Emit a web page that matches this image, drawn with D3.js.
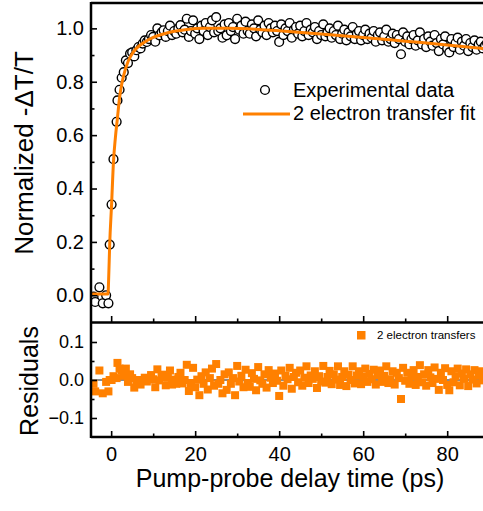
<!DOCTYPE html>
<html>
<head>
<meta charset="utf-8">
<script src="https://cdn.jsdelivr.net/npm/d3@7"></script>
<style>
  body { margin: 0; background: #fff; }
  text { font-family: Arial, "Liberation Sans", sans-serif; fill: #000; }
</style>
</head>
<body>
<svg id="chart" width="483" height="511"></svg>
<script>
// delay times (ps)
let time = [-4.2, -3.8, -2.8, -2.0, -1.2, -0.65, -0.35, 0.1, 0.55, 1.3, 1.5,
  2, 2.5, 3, 3.5, 4, 4.5, 5, 5.5, 6, 6.5, 7, 7.5, 8, 8.5, 9, 9.5, 10, 10.5, 11, 11.5,
  12, 12.5, 13, 13.5, 14, 14.5, 15, 15.5, 16, 16.5, 17, 17.5, 18, 18.5, 19, 19.5, 20, 20.5, 21, 21.5,
  22, 22.5, 23, 23.5, 24, 24.5, 25, 25.5, 26, 26.5, 27, 27.5, 28, 28.5, 29, 29.5, 30, 30.5, 31, 31.5,
  32, 32.5, 33, 33.5, 34, 34.5, 35, 35.5, 36, 36.5, 37, 37.5, 38, 38.5, 39, 39.5, 40, 40.5, 41, 41.5,
  42, 42.5, 43, 43.5, 44, 44.5, 45, 45.5, 46, 46.5, 47, 47.5, 48, 48.5, 49, 49.5, 50, 50.5, 51, 51.5,
  52, 52.5, 53, 53.5, 54, 54.5, 55, 55.5, 56, 56.5, 57, 57.5, 58, 58.5, 59, 59.5, 60, 60.5, 61, 61.5,
  62, 62.5, 63, 63.5, 64, 64.5, 65, 65.5, 66, 66.5, 67, 67.5, 68, 68.5, 69, 69.5, 70, 70.5, 71, 71.5,
  72, 72.5, 73, 73.5, 74, 74.5, 75, 75.5, 76, 76.5, 77, 77.5, 78, 78.5, 79, 79.5, 80, 80.5, 81, 81.5,
  82, 82.5, 83, 83.5, 84, 84.5, 85, 85.5, 86, 86.5, 87, 87.5, 88, 88.5, 89, 89.5];

// normalized -dT/T
let signal = [-0.005, -0.025, 0.03, -0.03, 0.0, -0.03, 0.19, 0.34, 0.51, 0.65, 0.73,
  0.77, 0.815, 0.836, 0.88, 0.87, 0.905, 0.91, 0.895, 0.918, 0.93, 0.925, 0.943, 0.955, 0.949, 0.96, 0.975, 0.968, 0.95, 1.0, 0.974,
  0.985, 0.993, 0.968, 0.99, 1.01, 0.975, 0.99, 0.98, 1.0, 1.012, 0.985, 0.995, 1.036, 0.968, 0.99, 1.03, 0.98, 1.0, 0.96, 1.01,
  0.99, 1.02, 0.975, 1.005, 1.03, 0.985, 1.042, 0.99, 1.0, 0.965, 1.015, 0.974, 1.02, 0.99, 1.005, 0.96, 1.036, 0.995, 1.01, 0.98,
  1.025, 0.99, 0.98, 1.015, 1.0, 0.97, 1.03, 0.995, 0.985, 1.01, 0.975, 1.02, 1.0, 0.985, 1.01, 0.99, 0.949, 1.015, 0.975, 1.0,
  0.99, 1.02, 0.965, 0.995, 1.005, 0.98, 1.01, 0.97, 0.99, 1.02, 0.975, 0.995, 0.985, 1.005, 0.96, 0.99, 0.975, 1.015, 0.97, 0.985,
  1.0, 0.965, 0.99, 0.975, 1.01, 0.96, 0.98, 0.995, 0.955, 0.985, 0.97, 1.005, 0.96, 0.98, 0.99, 0.955, 0.975, 0.995, 0.96, 0.98,
  0.965, 0.99, 0.95, 0.975, 0.985, 0.955, 0.97, 0.995, 0.95, 0.96, 0.98, 0.945, 0.975, 0.96, 0.903, 0.985, 0.95, 0.97, 0.94, 0.96,
  0.975, 0.935, 0.955, 0.985, 0.94, 0.96, 0.93, 0.97, 0.95, 0.935, 0.975, 0.945, 0.915, 0.96, 0.94, 0.97, 0.925, 0.91, 0.96, 0.93,
  0.945, 0.965, 0.92, 0.95, 0.935, 0.96, 0.915, 0.945, 0.93, 0.955, 0.92, 0.94, 0.95, 0.925, 0.935, 0.945];

// residuals of the fit
let residual = [-0.01, -0.03, 0.025, -0.035, -0.005, -0.03, 0.0, 0.0, 0.01, 0.005, 0.045,
  0.03, 0.025, 0.011, 0.03, -0.005, 0.015, 0.005, -0.02, -0.007, 0.0, -0.012, 0.0, 0.006, -0.004, 0.002, 0.013, 0.002, -0.019, 0.028, -0.001,
  0.008, 0.014, -0.014, 0.006, 0.025, -0.012, 0.001, -0.01, 0.008, 0.019, -0.009, 0.0, 0.04, -0.029, -0.008, 0.032, -0.019, 0.001, -0.04, 0.01,
  -0.01, 0.02, -0.025, 0.005, 0.03, -0.015, 0.042, -0.01, 0.0, -0.035, 0.015, -0.026, 0.02, -0.01, 0.005, -0.04, 0.037, -0.004, 0.011, -0.019,
  0.027, -0.008, -0.018, 0.018, 0.003, -0.027, 0.034, -0.001, -0.01, 0.015, -0.02, 0.026, 0.006, -0.008, 0.017, -0.002, -0.042, 0.025, -0.015, 0.011,
  0.002, 0.032, -0.023, 0.008, 0.019, -0.006, 0.025, -0.015, 0.006, 0.036, -0.008, 0.012, 0.003, 0.023, -0.021, 0.01, -0.004, 0.037, -0.007, 0.008,
  0.024, -0.011, 0.015, 0.001, 0.036, -0.013, 0.008, 0.023, -0.016, 0.014, 0.0, 0.036, -0.009, 0.012, 0.023, -0.011, 0.009, 0.03, -0.005, 0.016,
  0.002, 0.027, -0.012, 0.013, 0.025, -0.005, 0.011, 0.036, -0.008, 0.002, 0.023, -0.012, 0.019, 0.005, -0.05, 0.032, -0.002, 0.019, -0.01, 0.01,
  0.026, -0.013, 0.008, 0.039, -0.006, 0.015, -0.015, 0.026, 0.007, -0.008, 0.033, 0.003, -0.026, 0.019, 0.0, 0.031, -0.013, -0.027, 0.023, -0.006,
  0.01, 0.03, -0.014, 0.017, 0.003, 0.028, -0.016, 0.015, 0.001, 0.026, -0.009, 0.012, 0.023, -0.001, 0.011, 0.022];

// 2 electron transfer fit
let fitTime = [-4.8, -0.75, -0.6, -0.35, 0.1, 0.55, 1.0, 1.5, 2.0, 2.5, 3.0, 4.0, 5.0, 6.0, 8.0, 10, 12, 15, 18, 22, 28, 35, 40, 50, 60, 70, 80, 90];
let fitValue = [0.005, 0.005, 0.06, 0.19, 0.34, 0.50, 0.59, 0.665, 0.74, 0.79, 0.825, 0.875, 0.905, 0.925, 0.949, 0.966, 0.977, 0.989, 0.996, 1.0, 1.0, 0.996, 0.991, 0.979, 0.966, 0.952, 0.938, 0.922];

let xMajor = [0, 20, 40, 60, 80], xMinor = [10, 30, 50, 70];
let topMajor = [0, 0.2, 0.4, 0.6, 0.8, 1.0], topMinor = [0.1, 0.3, 0.5, 0.7, 0.9];
let resMajor = [-0.1, 0, 0.1], resMinor = [-0.05, 0.05];

let orange = "#ff8000";

let svg = d3.select("#chart");

let x = d3.scaleLinear().domain([-4.8, 90]).range([91, 489.2]);
let y = d3.scaleLinear().domain([-0.1, 1.095]).range([322, 3]);
let yr = d3.scaleLinear().domain([-0.15, 0.15]).range([437, 323]);

let defs = svg.append("defs");
defs.append("clipPath").attr("id", "clipTop")
  .append("rect").attr("x", 91).attr("y", 3).attr("width", 400).attr("height", 319);
defs.append("clipPath").attr("id", "clipRes")
  .append("rect").attr("x", 91).attr("y", 323).attr("width", 400).attr("height", 114);

// ---- top panel
let topPanel = svg.append("g").attr("clip-path", "url(#clipTop)");

topPanel.append("g").selectAll("circle")
  .data(time)
  .enter().append("circle")
  .attr("cx", d => x(d))
  .attr("cy", (d, i) => y(signal[i]))
  .attr("r", 4.4)
  .attr("fill", "white")
  .attr("stroke", "black")
  .attr("stroke-width", 1.4);

topPanel.append("path")
  .datum(fitTime)
  .attr("fill", "none")
  .attr("stroke", orange)
  .attr("stroke-width", 3)
  .attr("d", d3.line()
    .curve(d3.curveMonotoneX)
    .x(d => x(d))
    .y((d, i) => y(fitValue[i])));

// ---- residual panel
let resPanel = svg.append("g").attr("clip-path", "url(#clipRes)");

resPanel.append("line")
  .attr("x1", 91).attr("x2", 490)
  .attr("y1", yr(0)).attr("y2", yr(0))
  .attr("stroke", "#8a8a8a")
  .attr("stroke-width", 2);

resPanel.append("g").selectAll("rect")
  .data(time)
  .enter().append("rect")
  .attr("x", d => x(d) - 4)
  .attr("y", (d, i) => yr(residual[i]) - 4)
  .attr("width", 8)
  .attr("height", 8)
  .attr("fill", orange);

// ---- axes
function styleAxis(g) {
  g.select(".domain").remove();
  g.selectAll(".tick line").attr("stroke", "black").attr("stroke-width", 1.6);
}

svg.append("g").attr("transform", "translate(91,0)")
  .call(d3.axisLeft(y).tickValues(topMajor).tickSize(-6).tickPadding(7).tickFormat(d3.format(".1f")))
  .call(styleAxis)
  .selectAll("text").attr("font-size", 20).attr("font-family", "Arial, 'Liberation Sans', sans-serif");
svg.append("g").attr("transform", "translate(91,0)")
  .call(d3.axisLeft(y).tickValues(topMinor).tickSize(-3.5).tickFormat(""))
  .call(styleAxis);

svg.append("g").attr("transform", "translate(91,0)")
  .call(d3.axisLeft(yr).tickValues(resMajor).tickSize(-6).tickPadding(7).tickFormat(d3.format(".1f")))
  .call(styleAxis)
  .selectAll("text").attr("font-size", 18).attr("font-family", "Arial, 'Liberation Sans', sans-serif");
svg.append("g").attr("transform", "translate(91,0)")
  .call(d3.axisLeft(yr).tickValues(resMinor).tickSize(-3.5).tickFormat(""))
  .call(styleAxis);

// bottom of top panel (no labels)
svg.append("g").attr("transform", "translate(0,322)")
  .call(d3.axisBottom(x).tickValues(xMajor).tickSize(-6).tickFormat(""))
  .call(styleAxis);
svg.append("g").attr("transform", "translate(0,322)")
  .call(d3.axisBottom(x).tickValues(xMinor).tickSize(-3.5).tickFormat(""))
  .call(styleAxis);

svg.append("g").attr("transform", "translate(0,437)")
  .call(d3.axisBottom(x).tickValues(xMajor).tickSize(-6).tickPadding(10).tickFormat(d3.format("d")))
  .call(styleAxis)
  .selectAll("text").attr("font-size", 20).attr("font-family", "Arial, 'Liberation Sans', sans-serif");
svg.append("g").attr("transform", "translate(0,437)")
  .call(d3.axisBottom(x).tickValues(xMinor).tickSize(-3.5).tickFormat(""))
  .call(styleAxis);

// frame
let frame = svg.append("g").attr("stroke", "black").attr("fill", "none");
frame.append("line").attr("x1", 91).attr("x2", 483).attr("y1", 3).attr("y2", 3).attr("stroke-width", 2.5);
frame.append("line").attr("x1", 91).attr("x2", 483).attr("y1", 322.5).attr("y2", 322.5).attr("stroke-width", 2.5);
frame.append("line").attr("x1", 91).attr("x2", 483).attr("y1", 437).attr("y2", 437).attr("stroke-width", 2.5);
frame.append("line").attr("x1", 91).attr("x2", 91).attr("y1", 2).attr("y2", 438).attr("stroke-width", 2.5);

// titles
svg.append("text")
  .attr("transform", "translate(33,153) rotate(-90)")
  .attr("text-anchor", "middle")
  .attr("font-size", 26)
  .text("Normalized -\u0394T/T");

svg.append("text")
  .attr("transform", "translate(38,381) rotate(-90)")
  .attr("text-anchor", "middle")
  .attr("font-size", 25)
  .text("Residuals");

svg.append("text")
  .attr("x", 290).attr("y", 487)
  .attr("text-anchor", "middle")
  .attr("font-size", 25)
  .text("Pump-probe delay time (ps)");

// legend, top panel
svg.append("circle")
  .attr("cx", 265).attr("cy", 90).attr("r", 4.4)
  .attr("fill", "white").attr("stroke", "black").attr("stroke-width", 1.4);
svg.append("text").attr("x", 293).attr("y", 97).attr("font-size", 20).text("Experimental data");
svg.append("line")
  .attr("x1", 243).attr("x2", 290).attr("y1", 114).attr("y2", 114)
  .attr("stroke", orange).attr("stroke-width", 3);
svg.append("text").attr("x", 293).attr("y", 120).attr("font-size", 20).text("2 electron transfer fit");

// legend, residual panel
svg.append("rect")
  .attr("x", 357).attr("y", 331).attr("width", 8.5).attr("height", 8.5)
  .attr("fill", orange);
svg.append("text").attr("x", 377).attr("y", 339).attr("font-size", 11.5).text("2 electron transfers");
</script>
</body>
</html>
